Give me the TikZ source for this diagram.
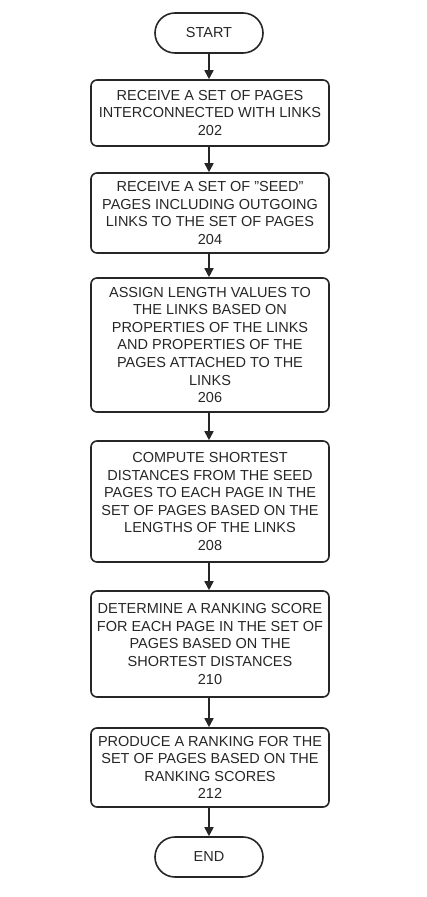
\documentclass[tikz,border=0pt]{standalone}
\usepackage{fontspec}
\setmainfont{Liberation Sans}
\usetikzlibrary{arrows.meta}
\begin{document}
\begin{tikzpicture}[x=1pt,y=-1pt,
  every node/.style={font=\fontsize{14.5}{17.6}\selectfont, text=black!85},
  procbox/.style={draw=black!85, line width=1.6pt, rounded corners=6pt, align=center,
    minimum width=238pt, inner sep=0pt},
  termbox/.style={draw=black!85, line width=1.6pt, rounded corners=20pt, align=center,
    minimum width=108pt, minimum height=40pt, inner sep=0pt},
  flow/.style={draw=black!85, line width=1.6pt, -{Triangle[length=9pt,width=9pt]}}]
\useasboundingbox (0,0) rectangle (426,897);
\node[termbox] (start) at (209,33) {START};
\node[procbox, minimum height=66pt] (b202) at (210,113) {RECEIVE A SET OF PAGES\\INTERCONNECTED WITH LINKS\\202};
\node[procbox, minimum height=80pt] (b204) at (210,213) {RECEIVE A SET OF "SEED"\\PAGES INCLUDING OUTGOING\\LINKS TO THE SET OF PAGES\\204};
\node[procbox, minimum height=134pt] (b206) at (210,345) {ASSIGN LENGTH VALUES TO\\THE LINKS BASED ON\\PROPERTIES OF THE LINKS\\AND PROPERTIES OF THE\\PAGES ATTACHED TO THE\\LINKS\\206};
\node[procbox, minimum height=121pt] (b208) at (210,501.5) {COMPUTE SHORTEST\\DISTANCES FROM THE SEED\\PAGES TO EACH PAGE IN THE\\SET OF PAGES BASED ON THE\\LENGTHS OF THE LINKS\\208};
\node[procbox, minimum height=106pt] (b210) at (210,644) {DETERMINE A RANKING SCORE\\FOR EACH PAGE IN THE SET OF\\PAGES BASED ON THE\\SHORTEST DISTANCES\\210};
\node[procbox, minimum height=79pt] (b212) at (210,767.5) {PRODUCE A RANKING FOR THE\\SET OF PAGES BASED ON THE\\RANKING SCORES\\212};
\node[termbox] (end) at (209,857) {END};
\draw[flow] (start) -- (b202.north -| start);
\draw[flow] (b202.south -| start) -- (b204.north -| start);
\draw[flow] (b204.south -| start) -- (b206.north -| start);
\draw[flow] (b206.south -| start) -- (b208.north -| start);
\draw[flow] (b208.south -| start) -- (b210.north -| start);
\draw[flow] (b210.south -| start) -- (b212.north -| start);
\draw[flow] (b212.south -| start) -- (end);
\end{tikzpicture}
\end{document}
